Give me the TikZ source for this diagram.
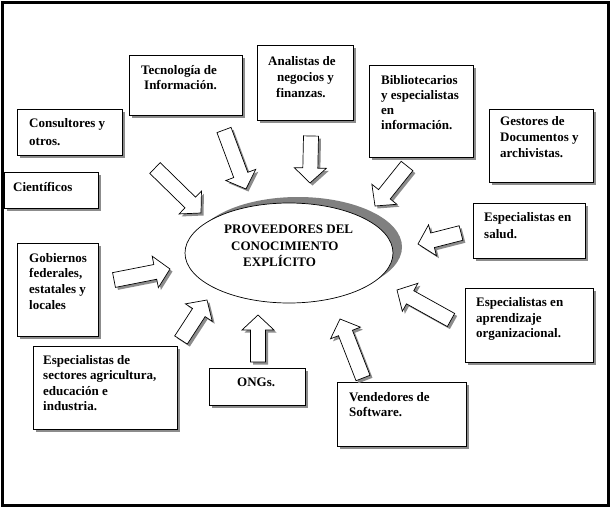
\documentclass[tikz,border=0pt]{standalone}
\usepackage{fontspec}
\setmainfont{Liberation Serif}
\usetikzlibrary{calc,shadows,shapes.geometric}
\tikzset{
  shad/.style={drop shadow={shadow xshift=3pt,shadow yshift=-3pt,fill=black!45,opacity=1}},
  box/.style={draw,fill=white,line width=0.8pt,anchor=north west,inner sep=0pt,shad},
  txt/.style={anchor=north west,inner sep=0pt,align=left,font=\bfseries\fontsize{13}{#1}\selectfont},
  txt/.default=15.5,
  barrow/.style={draw,fill=white,line width=0.7pt,line join=miter,drop shadow={shadow xshift=2.5pt,shadow yshift=-2.5pt,fill=black!45,opacity=1}},
}
\newcommand\blockarrow[3]{%
  \coordinate (#1t) at (#2);
  \coordinate (#1p) at (#3);
  \coordinate (#1n) at ($(#1p)!15pt!(#1t)$);
  \draw[barrow] ($(#1t)!7.5pt!90:(#1p)$) -- ($(#1n)!7.5pt!90:(#1p)$) -- ($(#1n)!16pt!90:(#1p)$) -- (#1p)
     -- ($(#1n)!16pt!-90:(#1p)$) -- ($(#1n)!7.5pt!-90:(#1p)$) -- ($(#1t)!7.5pt!-90:(#1p)$) -- cycle;
}
\begin{document}
\begin{tikzpicture}[x=1pt,y=-1pt]
\useasboundingbox (0,0) rectangle (612,508);
\draw[line width=3pt] (2.5,2.5) rectangle (608.5,505.5);

% centre ellipse
\node[draw,ellipse,fill=white,line width=0.7pt,minimum width=208pt,minimum height=100pt,inner sep=0pt,
  drop shadow={shadow xshift=9pt,shadow yshift=6pt,fill=black!50,opacity=1}] (core) at (289,253) {};
\node[txt=16.3] (coretext) at (224,225) {PROVEEDORES DEL\\\hspace{7pt}CONOCIMIENTO\\\hspace{19pt}EXPLÍCITO};

% boxes
\node[box,minimum width=113pt,minimum height=60pt] (tec) at (129,55) {};
\node[txt] (tect) at (141,65) {Tecnología de\\\hspace{3pt}Información.};

\node[box,minimum width=96pt,minimum height=75pt] (ana) at (257,45) {};
\node[txt=16] (anat) at (268,56) {Analistas de\\\hspace{9pt}negocios y\\\hspace{8pt}finanzas.};

\node[box,minimum width=104pt,minimum height=92pt] (bib) at (369,65) {};
\node[txt=15] (bibt) at (381,75) {Bibliotecarios\\y especialistas\\en\\información.};

\node[box,minimum width=104pt,minimum height=73pt] (ges) at (489,109) {};
\node[txt=16] (gest) at (500,116) {Gestores de\\Documentos y\\archivistas.};

\node[box,minimum width=105pt,minimum height=46pt] (con) at (17,109) {};
\node[txt=18] (cont) at (29,118) {Consultores y\\otros.};

\node[box,minimum width=94pt,minimum height=36pt] (cie) at (4,172) {};
\node[txt] (ciet) at (13,182) {Científicos};

\node[box,minimum width=81pt,minimum height=93pt] (gob) at (17,243) {};
\node[txt=15.7] (gobt) at (29,253) {Gobiernos\\federales,\\estatales y\\locales};

\node[box,minimum width=112pt,minimum height=55pt] (sal) at (473,203) {};
\node[txt=17.5] (salt) at (484,212) {Especialistas en\\salud.};

\node[box,minimum width=128pt,minimum height=74pt] (apr) at (465,288) {};
\node[txt=15.8] (aprt) at (476,297) {Especialistas en\\aprendizaje\\organizacional.};

\node[box,minimum width=144pt,minimum height=83pt] (sec) at (33,346) {};
\node[txt=15.5] (sect) at (43,355) {Especialistas de\\sectores agricultura,\\educación e\\industria.};

\node[box,minimum width=96pt,minimum height=37pt] (ong) at (209,368) {};
\node[txt] (ongt) at (237,378) {ONGs.};

\node[box,minimum width=129pt,minimum height=64pt] (ven) at (337,382) {};
\node[txt=15] (vent) at (349,392) {Vendedores de\\Software.};

% block arrows
\blockarrow{aa}{155,168}{201,213}
\blockarrow{ab}{224,130}{246,189}
\blockarrow{ac}{311,136}{310,183}
\blockarrow{ad}{407,166}{375,206}
\blockarrow{ae}{461,233}{418,244}
\blockarrow{af}{451,320}{397,290}
\blockarrow{ag}{363,378}{340,319}
\blockarrow{ah}{258,362}{258,315}
\blockarrow{ai}{181,340}{207,300}
\blockarrow{aj}{114,280}{170,269}
\end{tikzpicture}
\end{document}
